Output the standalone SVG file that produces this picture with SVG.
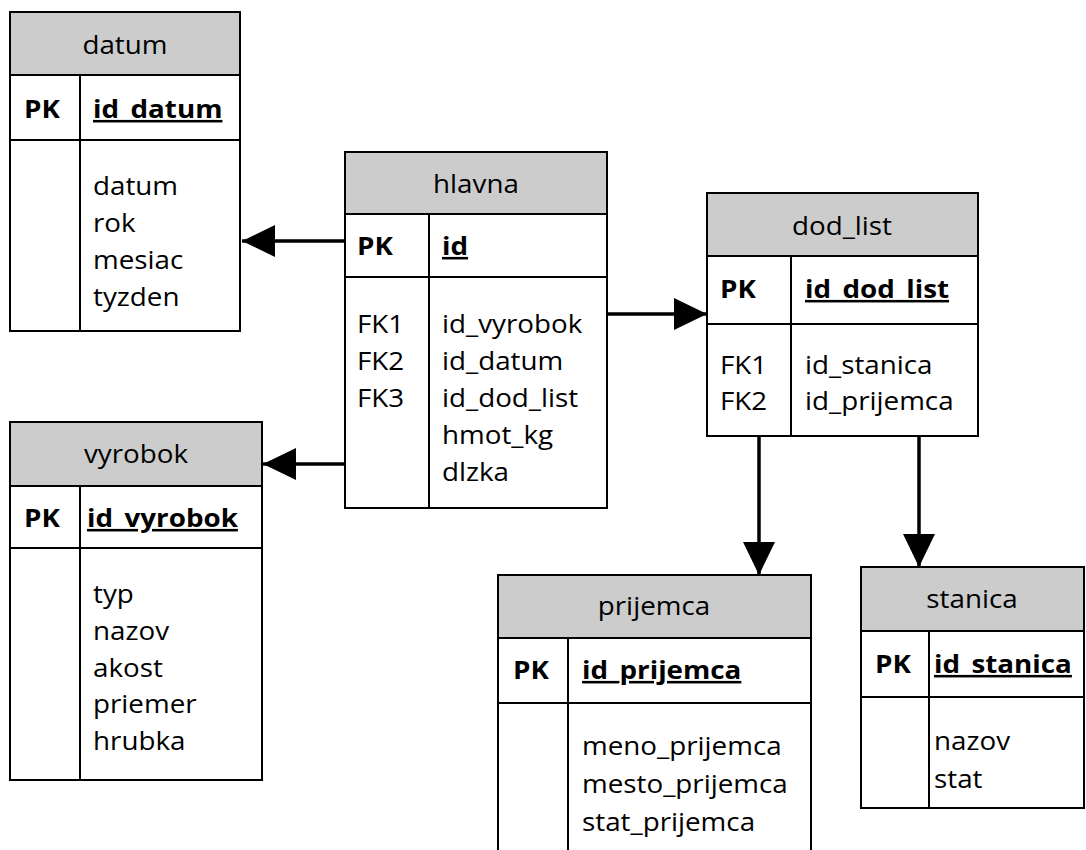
<svg xmlns="http://www.w3.org/2000/svg" width="1086" height="850" viewBox="0 0 1086 850">
  <style>
    .box { fill: #ffffff; stroke: #000000; stroke-width: 2; }
    .head { fill: #cccccc; stroke: #000000; stroke-width: 2; }
    .rule { stroke: #000000; stroke-width: 2; fill: none; }
    .link { stroke: #000000; stroke-width: 3.5; fill: none; }
    text { font-family: "Open Sans", "Noto Sans", sans-serif; font-size: 25.5px; fill: #000000;
           transform-box: fill-box; transform-origin: 0 0; transform: scaleX(1.09); }
    .title { text-anchor: middle; transform-origin: 50% 0; }
    .pk { font-weight: bold; }
    .key { font-weight: bold; text-decoration: underline; }
  </style>
  <defs>
    <marker id="arrow" viewBox="0 0 33 32" refX="33" refY="16" markerWidth="33" markerHeight="32" markerUnits="userSpaceOnUse" orient="auto">
      <path d="M0,0 L33,16 L0,32 Z" fill="#000000"/>
    </marker>
  </defs>

  <!-- relationships -->
  <g id="connectors">
    <line class="link" x1="345" y1="241" x2="242" y2="241" marker-end="url(#arrow)"/>
    <line class="link" x1="345" y1="464" x2="263" y2="464" marker-end="url(#arrow)"/>
    <line class="link" x1="607" y1="314" x2="707" y2="314" marker-end="url(#arrow)"/>
    <line class="link" x1="759" y1="436" x2="759" y2="575" marker-end="url(#arrow)"/>
    <line class="link" x1="919" y1="436" x2="919" y2="567" marker-end="url(#arrow)"/>
  </g>

  <!-- datum -->
  <g id="datum">
    <rect class="box" x="10" y="12" width="230" height="319"/>
    <rect class="head" x="10" y="12" width="230" height="63"/>
    <line class="rule" x1="10" y1="140" x2="240" y2="140"/>
    <line class="rule" x1="80" y1="75" x2="80" y2="331"/>
    <text class="title" x="125" y="54">datum</text>
    <text class="pk" x="24" y="118">PK</text>
    <text class="key" x="93" y="118">id_datum</text>
    <text x="93" y="195">datum</text>
    <text x="93" y="232">rok</text>
    <text x="93" y="269">mesiac</text>
    <text x="93" y="306">tyzden</text>
  </g>

  <!-- hlavna -->
  <g id="hlavna">
    <rect class="box" x="345" y="152" width="262" height="356"/>
    <rect class="head" x="345" y="152" width="262" height="62"/>
    <line class="rule" x1="345" y1="277" x2="607" y2="277"/>
    <line class="rule" x1="429" y1="214" x2="429" y2="508"/>
    <text class="title" x="476" y="193">hlavna</text>
    <text class="pk" x="357" y="255">PK</text>
    <text class="key" x="442" y="255">id</text>
    <text x="357" y="333">FK1</text>
    <text x="357" y="370">FK2</text>
    <text x="357" y="407">FK3</text>
    <text x="442" y="333">id_vyrobok</text>
    <text x="442" y="370">id_datum</text>
    <text x="442" y="407">id_dod_list</text>
    <text x="442" y="444">hmot_kg</text>
    <text x="442" y="481">dlzka</text>
  </g>

  <!-- dod_list -->
  <g id="dod_list">
    <rect class="box" x="707" y="193" width="271" height="243"/>
    <rect class="head" x="707" y="193" width="271" height="63"/>
    <line class="rule" x1="707" y1="324" x2="978" y2="324"/>
    <line class="rule" x1="791" y1="256" x2="791" y2="436"/>
    <text class="title" x="842" y="235">dod_list</text>
    <text class="pk" x="720" y="298">PK</text>
    <text class="key" x="805" y="298">id_dod_list</text>
    <text x="720" y="374">FK1</text>
    <text x="720" y="410">FK2</text>
    <text x="805" y="374">id_stanica</text>
    <text x="805" y="410">id_prijemca</text>
  </g>

  <!-- vyrobok -->
  <g id="vyrobok">
    <rect class="box" x="10" y="422" width="252" height="358"/>
    <rect class="head" x="10" y="422" width="252" height="64"/>
    <line class="rule" x1="10" y1="548" x2="262" y2="548"/>
    <line class="rule" x1="80" y1="486" x2="80" y2="780"/>
    <text class="title" x="136" y="463">vyrobok</text>
    <text class="pk" x="24" y="527">PK</text>
    <text class="key" x="87" y="527">id_vyrobok</text>
    <text x="93" y="603">typ</text>
    <text x="93" y="640">nazov</text>
    <text x="93" y="677">akost</text>
    <text x="93" y="713">priemer</text>
    <text x="93" y="750">hrubka</text>
  </g>

  <!-- prijemca (runs past the bottom edge) -->
  <g id="prijemca">
    <rect class="box" x="498" y="575" width="313" height="290"/>
    <rect class="head" x="498" y="575" width="313" height="63"/>
    <line class="rule" x1="498" y1="703" x2="811" y2="703"/>
    <line class="rule" x1="568" y1="638" x2="568" y2="865"/>
    <text class="title" x="654" y="615">prijemca</text>
    <text class="pk" x="513" y="679">PK</text>
    <text class="key" x="582" y="679">id_prijemca</text>
    <text x="582" y="755">meno_prijemca</text>
    <text x="582" y="793">mesto_prijemca</text>
    <text x="582" y="831">stat_prijemca</text>
  </g>

  <!-- stanica -->
  <g id="stanica">
    <rect class="box" x="861" y="567" width="223" height="241"/>
    <rect class="head" x="861" y="567" width="223" height="64"/>
    <line class="rule" x1="861" y1="697" x2="1084" y2="697"/>
    <line class="rule" x1="929" y1="631" x2="929" y2="808"/>
    <text class="title" x="972" y="608">stanica</text>
    <text class="pk" x="875" y="673">PK</text>
    <text class="key" x="934" y="673">id_stanica</text>
    <text x="934" y="750">nazov</text>
    <text x="934" y="788">stat</text>
  </g>
</svg>
